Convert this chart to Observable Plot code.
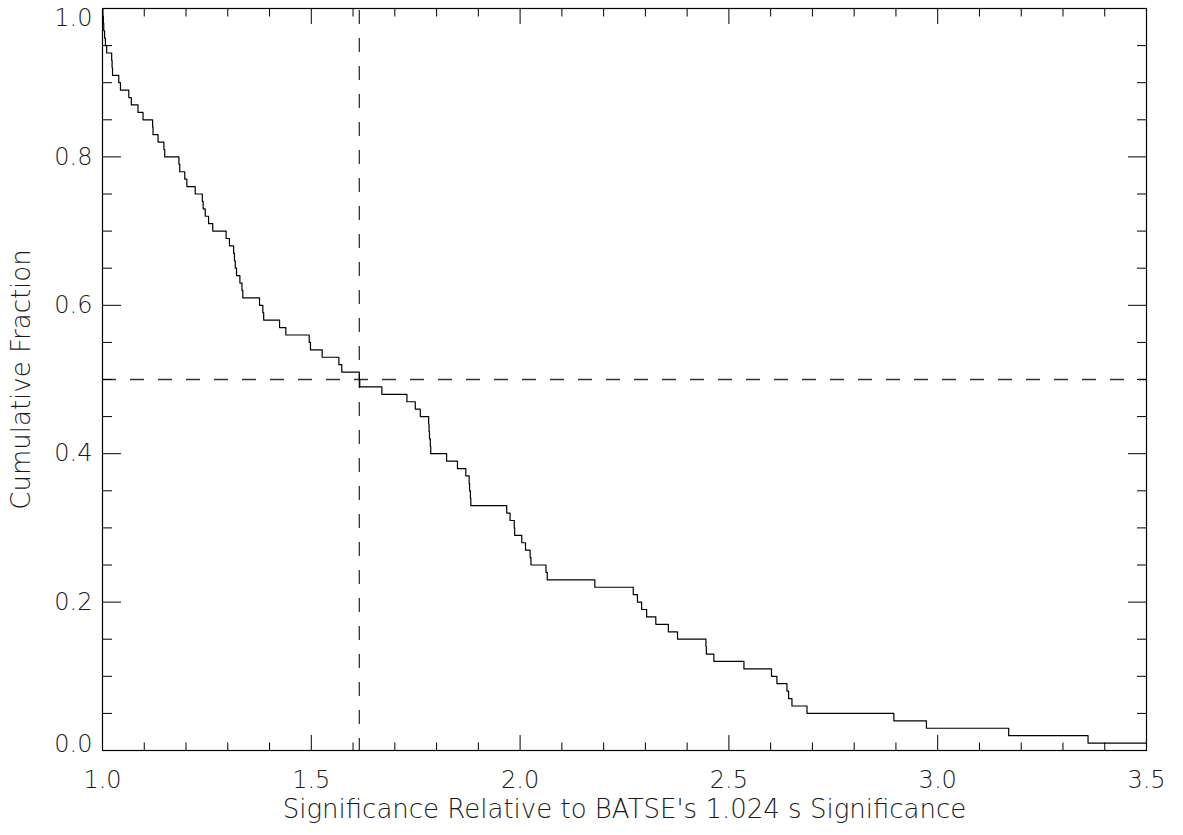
<!DOCTYPE html>
<html><head><meta charset="utf-8">
<script src="https://cdn.jsdelivr.net/npm/d3@7"></script>
<script src="https://cdn.jsdelivr.net/npm/@observablehq/plot@0.6"></script>
<style>body{margin:0;background:#fff}</style>
</head><body><div id="chart"></div>
<script>
// Step positions (significance ratio) and cumulative fraction levels
const stepX = [1.000, 1.001, 1.002, 1.003, 1.005, 1.007, 1.010, 1.022, 1.023, 1.024,
  1.039, 1.043, 1.063, 1.069, 1.085, 1.097, 1.120, 1.121, 1.133, 1.147,
  1.149, 1.183, 1.185, 1.197, 1.202, 1.222, 1.239, 1.241, 1.246, 1.254,
  1.264, 1.296, 1.304, 1.314, 1.316, 1.318, 1.321, 1.329, 1.334, 1.336,
  1.376, 1.384, 1.386, 1.424, 1.439, 1.495, 1.498, 1.526, 1.566, 1.573,
  1.615, 1.616, 1.669, 1.729, 1.749, 1.761, 1.781, 1.782, 1.783, 1.785,
  1.786, 1.824, 1.850, 1.870, 1.878, 1.879, 1.881, 1.882, 1.968, 1.976,
  1.986, 1.987, 2.004, 2.013, 2.024, 2.026, 2.062, 2.065, 2.179, 2.271,
  2.281, 2.291, 2.303, 2.325, 2.355, 2.377, 2.445, 2.446, 2.464, 2.536,
  2.602, 2.615, 2.639, 2.643, 2.651, 2.687, 2.895, 2.973, 3.170, 3.360, 3.500];
const stepY = [1.00, 0.99, 0.98, 0.97, 0.96, 0.95, 0.94, 0.93, 0.92, 0.91,
  0.90, 0.89, 0.88, 0.87, 0.86, 0.85, 0.84, 0.83, 0.82, 0.81,
  0.80, 0.79, 0.78, 0.77, 0.76, 0.75, 0.74, 0.73, 0.72, 0.71,
  0.70, 0.69, 0.68, 0.67, 0.66, 0.65, 0.64, 0.63, 0.62, 0.61,
  0.60, 0.59, 0.58, 0.57, 0.56, 0.55, 0.54, 0.53, 0.52, 0.51,
  0.50, 0.49, 0.48, 0.47, 0.46, 0.45, 0.44, 0.43, 0.42, 0.41,
  0.40, 0.39, 0.38, 0.37, 0.36, 0.35, 0.34, 0.33, 0.32, 0.31,
  0.30, 0.29, 0.28, 0.27, 0.26, 0.25, 0.24, 0.23, 0.22, 0.21,
  0.20, 0.19, 0.18, 0.17, 0.16, 0.15, 0.14, 0.13, 0.12, 0.11,
  0.10, 0.09, 0.08, 0.07, 0.06, 0.05, 0.04, 0.03, 0.02, 0.01, 0.01];

const medianX = 1.615;
const halfFraction = 0.5;

const xMajorTicks = [1.0, 1.5, 2.0, 2.5, 3.0, 3.5];
const xMinorTicks = [1.1, 1.2, 1.3, 1.4, 1.6, 1.7, 1.8, 1.9, 2.1, 2.2, 2.3, 2.4,
  2.6, 2.7, 2.8, 2.9, 3.1, 3.2, 3.3, 3.4];
const yMajorTicks = [0.0, 0.2, 0.4, 0.6, 0.8, 1.0];
const yMinorTicks = [0.05, 0.1, 0.15, 0.25, 0.3, 0.35, 0.45, 0.5, 0.55,
  0.65, 0.7, 0.75, 0.85, 0.9, 0.95];
const yInnerLabels = [0.2, 0.4, 0.6, 0.8];
const yTopLabel = [1.0];
const yBottomLabel = [0.0];

const xTitle = "Significance Relative to BATSE's 1.024 s Significance";
const yTitle = "Cumulative Fraction";

const curve = stepX.map((x, i) => ({x, y: stepY[i]}));
const fmt = d3.format(".1f");
const txt = {fontSize: 24, fill: "#1a1a1a", stroke: "none"};
const tick = {fill: "none", label: null, stroke: "#000"};

const chart = Plot.plot({
  width: 1183, height: 835,
  marginLeft: 102, marginRight: 37, marginTop: 8, marginBottom: 85,
  style: {fontFamily: "'DejaVu Sans', sans-serif", fontWeight: 200, background: "#fff", color: "#000"},
  x: {domain: [1, 3.5]},
  y: {domain: [0, 1]},
  marks: [
    Plot.ruleY([halfFraction], {stroke: "#333", strokeWidth: 1.3, strokeDasharray: "14,14"}),
    Plot.ruleX([medianX], {stroke: "#333", strokeWidth: 1.3, strokeDasharray: "14,14", strokeDashoffset: -2}),
    Plot.line(curve, {x: "x", y: "y", curve: "step-after", stroke: "#000", strokeWidth: 1.2}),
    Plot.frame({stroke: "#000", strokeWidth: 1.2}),
    // inward ticks on all four sides
    Plot.axisX(xMajorTicks, {...tick, anchor: "bottom", tickSize: -15}),
    Plot.axisX(xMinorTicks, {...tick, anchor: "bottom", tickSize: -7.5}),
    Plot.axisX(xMajorTicks, {...tick, anchor: "top", tickSize: -15}),
    Plot.axisX(xMinorTicks, {...tick, anchor: "top", tickSize: -7.5}),
    Plot.axisY(yMajorTicks, {...tick, anchor: "left", tickSize: -19}),
    Plot.axisY(yMinorTicks, {...tick, anchor: "left", tickSize: -10}),
    Plot.axisY(yMajorTicks, {...tick, anchor: "right", tickSize: -19}),
    Plot.axisY(yMinorTicks, {...tick, anchor: "right", tickSize: -10}),
    // tick labels
    Plot.axisX(xMajorTicks, {...txt, anchor: "bottom", tickSize: 0, tickPadding: 20, tickFormat: fmt, label: null}),
    Plot.axisY(yInnerLabels, {...txt, anchor: "left", tickSize: 0, tickPadding: 10, tickFormat: fmt, label: null}),
    Plot.axisY(yTopLabel, {...txt, anchor: "left", tickSize: 0, tickPadding: 10, tickFormat: fmt, label: null, dy: 10}),
    Plot.axisY(yBottomLabel, {...txt, anchor: "left", tickSize: 0, tickPadding: 10, tickFormat: fmt, label: null, dy: -6}),
    // axis titles
    Plot.text([xTitle], {frameAnchor: "bottom", dy: 67, fontSize: 26, fill: "#1a1a1a", text: d => d}),
    Plot.text([yTitle], {frameAnchor: "left", textAnchor: "middle", dx: -81, rotate: -90, fontSize: 26, fill: "#1a1a1a", text: d => d})
  ]
});
document.getElementById("chart").appendChild(chart);
</script>
</body></html>
